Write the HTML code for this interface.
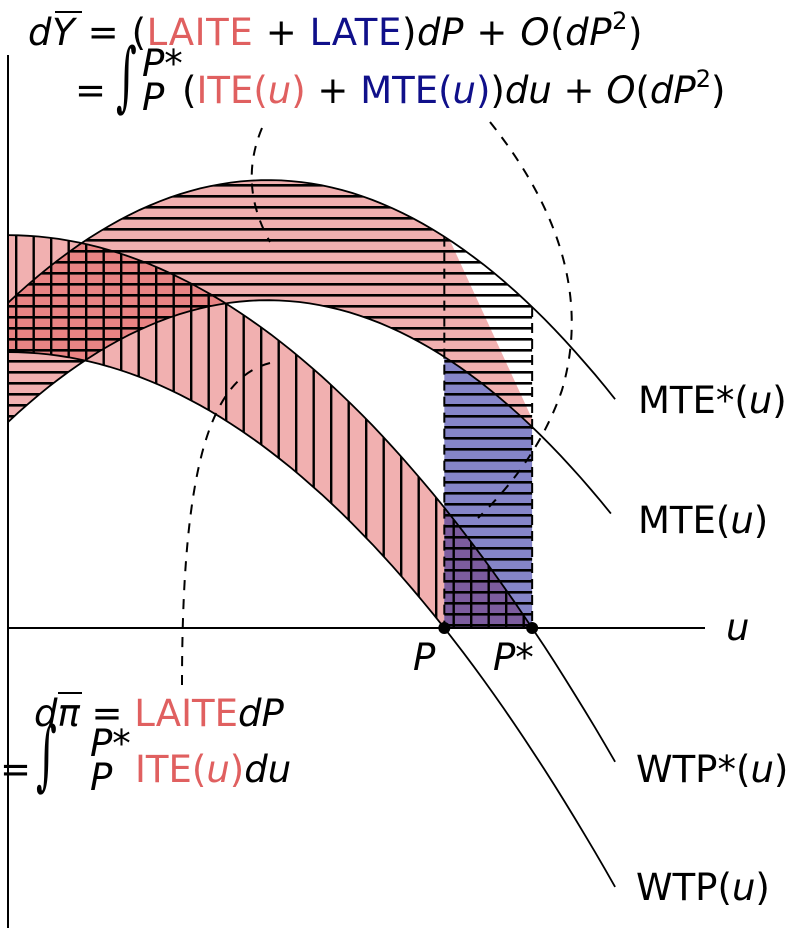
<!DOCTYPE html>
<html><head><meta charset="utf-8"><style>
html,body{margin:0;padding:0;background:#fff}
svg{display:block}
text{font-family:"DejaVu Sans","Liberation Sans",sans-serif;font-size:37px;fill:#000}
.it{font-style:italic}
.r{fill:#e06060}.b{fill:#10108a}
.int{font-family:"DejaVu Serif","Liberation Serif",serif;font-size:40px}
</style></head><body>
<svg id="chart" width="801" height="936" viewBox="0 0 801 936" xmlns="http://www.w3.org/2000/svg">
<defs>
<pattern id="hh" patternUnits="userSpaceOnUse" x="0" y="8" width="20" height="11"><rect x="0" y="0" width="20" height="2.6" fill="#000"/></pattern>
<pattern id="vh" patternUnits="userSpaceOnUse" x="15" y="0" width="17.5" height="20"><rect x="0" y="0" width="2.4" height="20" fill="#000"/></pattern>
</defs>
<g id="layers"></g>
<line x1="8" y1="55" x2="8" y2="928" stroke="#000" stroke-width="2"/>
<line x1="8" y1="628" x2="705" y2="628" stroke="#000" stroke-width="2"/>
<g fill="none" stroke="#000" stroke-width="2" stroke-dasharray="10,9">
<path d="M262,128 Q238,185 270,242"/>
<path d="M490,122 Q600,260 562,390 Q538,460 478,518"/>
<path d="M270,363 C212,378 182,460 182,685"/>
</g>
<g id="top">
<text x="28" y="45" letter-spacing="0.6"><tspan class="it">dY</tspan> = (<tspan class="r">LAITE</tspan> + <tspan class="b">LATE</tspan>)<tspan class="it">dP</tspan> + <tspan class="it">O</tspan>(<tspan class="it">dP</tspan><tspan font-size="24" dy="-16">2</tspan><tspan dy="16">)</tspan></text>
<line x1="55" y1="12" x2="82" y2="12" stroke="#000" stroke-width="2"/>
<text x="75" y="103">=</text>
<text class="int" transform="translate(116,102) scale(1,1.9)">∫</text>
<text x="142" y="76" font-size="25" class="it">P*</text>
<text x="142" y="110" font-size="25" class="it">P</text>
<text x="182" y="103">(<tspan class="r">ITE(<tspan class="it">u</tspan>)</tspan> + <tspan class="b">MTE(<tspan class="it">u</tspan>)</tspan>)<tspan class="it">du</tspan> + <tspan class="it">O</tspan>(<tspan class="it">dP</tspan><tspan font-size="24" dy="-16">2</tspan><tspan dy="16">)</tspan></text>
</g>
<g>
<text x="34" y="726"><tspan class="it">dπ</tspan> = <tspan class="r">LAITE</tspan><tspan class="it">dP</tspan></text>
<line x1="58" y1="693" x2="82" y2="693" stroke="#000" stroke-width="2"/>
<text x="0" y="782">=</text>
<text class="int" transform="translate(36,781) scale(1,1.9)">∫</text>
<text x="90" y="756" font-size="25" class="it">P*</text>
<text x="90" y="790" font-size="25" class="it">P</text>
<text x="135" y="782"><tspan class="r">ITE(<tspan class="it">u</tspan>)</tspan><tspan class="it">du</tspan></text>
</g>
<text x="638" y="413">MTE*(<tspan class="it">u</tspan>)</text>
<text x="638" y="533">MTE(<tspan class="it">u</tspan>)</text>
<text x="636" y="782">WTP*(<tspan class="it">u</tspan>)</text>
<text x="636" y="900">WTP(<tspan class="it">u</tspan>)</text>
<text class="it" x="726" y="640">u</text>
<text class="it" x="413" y="670">P</text>
<text class="it" x="493" y="670">P*</text>
</svg>
<script>
// data units: u (0..100 across x-axis), v (height above axis)
const curveU = [0, 37.3, 87.1];
const mteStarV = [73.9, 101.8, 52.0];
const mteV = [46.8, 74.5, 24.8];
const wtpU = [0, 31.1, 75.2];
const wtpStarV = [89.3, 73.9, 0];
const wtpU2 = [0, 31.1, 62.6];
const wtpV = [62.7, 47.3, 0];
const policyU = [62.6, 75.2]; // P, P*
const curveEndU = [87.1, 86.5, 87.1, 87.1];

const xS = u => 8 + u * 6.97;
const yS = v => 628 - v * 4.4;
function fit(us, vs){
  const [x0,x1,x2]=us,[y0,y1,y2]=vs;
  return u => y0*(u-x1)*(u-x2)/((x0-x1)*(x0-x2)) + y1*(u-x0)*(u-x2)/((x1-x0)*(x1-x2)) + y2*(u-x0)*(u-x1)/((x2-x0)*(x2-x1));
}
const fMS = fit(curveU, mteStarV), fM = fit(curveU, mteV);
const fWS = fit(wtpU, wtpStarV), fW = fit(wtpU2, wtpV);
function pts(f, a, b){
  const out=[]; const n=60;
  for(let i=0;i<=n;i++){const u=a+(b-a)*i/n; out.push([xS(u), yS(f(u))]);}
  return out;
}
const ptStr = a => a.map(p=>p[0].toFixed(1)+','+p[1].toFixed(1)).join(' L');
const P = policyU[0], PS = policyU[1];
const NS='http://www.w3.org/2000/svg';
const g = document.getElementById('layers');
function add(d, attrs, name){
  const e=document.createElementNS(NS,'path');
  e.setAttribute('d', d);
  for(const k in attrs) e.setAttribute(k, attrs[k]);
  
  
  g.appendChild(e);
  return e;
}
const pink='rgba(224,80,80,0.45)';
const axisY = yS(0);
const slantU = P + 0.8;
add('M'+ptStr(pts(fMS,0,slantU))+' L'+xS(PS)+','+(yS(fM(PS))-8)+' L'+ptStr(pts(fM,PS,0))+' Z',{fill:pink},'lait-upper-band');
add('M'+ptStr(pts(fWS,0,P))+' L'+ptStr(pts(fW,P,0))+' Z',{fill:pink},'ite-lower-band');
add('M'+ptStr(pts(fM,P,PS))+' L'+xS(PS)+','+axisY+' L'+xS(P)+','+axisY+' Z',{fill:'#8585c8'},'late-region');
add('M'+ptStr(pts(fWS,P,PS))+' L'+xS(PS)+','+axisY+' L'+xS(P)+','+axisY+' Z',{fill:'#7c5c9e'},'overlap-region');
add('M'+ptStr(pts(fMS,0,PS))+' L'+xS(PS)+','+axisY+' L'+xS(P)+','+axisY+' L'+ptStr(pts(fM,P,0))+' Z',{fill:'url(#hh)'},'horizontal-hatch');
add('M'+ptStr(pts(fWS,0,PS))+' L'+xS(PS)+','+axisY+' L'+xS(P)+','+axisY+' L'+ptStr(pts(fW,P,0))+' Z',{fill:'url(#vh)'},'vertical-hatch');
add('M'+xS(P)+','+yS(fMS(P))+' L'+xS(P)+','+axisY,{stroke:'#000','stroke-width':2,'stroke-dasharray':'10,6',fill:'none'},'p-dashed-line');
add('M'+xS(PS)+','+yS(fMS(PS))+' L'+xS(PS)+','+axisY,{stroke:'#000','stroke-width':2,'stroke-dasharray':'10,6',fill:'none'},'pstar-dashed-line');
add('M'+ptStr(pts(fMS,0,curveEndU[0])),{stroke:'#000','stroke-width':1.8,fill:'none'},'mte-star-curve');
add('M'+ptStr(pts(fM,0,curveEndU[1])),{stroke:'#000','stroke-width':1.8,fill:'none'},'mte-curve');
add('M'+ptStr(pts(fWS,0,curveEndU[2])),{stroke:'#000','stroke-width':1.8,fill:'none'},'wtp-star-curve');
add('M'+ptStr(pts(fW,0,curveEndU[3])),{stroke:'#000','stroke-width':1.8,fill:'none'},'wtp-curve');
for(const u of policyU){
  const c=document.createElementNS(NS,'circle');
  c.setAttribute('cx',xS(u)); c.setAttribute('cy',axisY); c.setAttribute('r',6);
  
  
  document.getElementById('chart').appendChild(c);
}
</script>
</body></html>
